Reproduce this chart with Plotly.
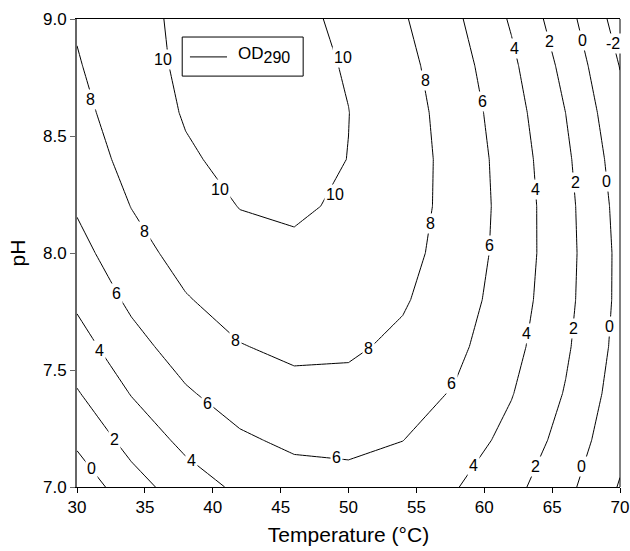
import plotly.graph_objects as go

# Response surface of OD290 over temperature and pH
temperature = [30, 34, 38, 42, 46, 50, 54, 58, 62, 66, 70]
ph = [7.0, 7.2, 7.4, 7.6, 7.8, 8.0, 8.2, 8.4, 8.6, 8.8, 9.0]

# OD290 values, one row per pH level (columns follow temperature)
od_ph70 = [-1.28, 1.16, 3.05, 4.37, 5.13, 5.34, 4.98, 4.06, 2.58, 0.55, -2.15]
od_ph72 = [0.37, 2.71, 4.49, 5.71, 6.38, 6.48, 6.02, 5.00, 3.42, 1.29, -1.41]
od_ph74 = [1.85, 4.09, 5.78, 6.90, 7.46, 7.46, 6.90, 5.78, 4.10, 1.87, -0.93]
od_ph76 = [3.18, 5.32, 6.90, 7.92, 8.38, 8.28, 7.62, 6.40, 4.63, 2.29, -0.61]
od_ph78 = [4.35, 6.39, 7.87, 8.79, 9.15, 8.95, 8.19, 6.87, 4.99, 2.55, -0.46]
od_ph80 = [5.35, 7.29, 8.67, 9.49, 9.75, 9.45, 8.59, 7.17, 5.19, 2.65, -0.46]
od_ph82 = [6.20, 8.04, 9.32, 10.04, 10.20, 9.79, 8.83, 7.31, 5.23, 2.59, -0.62]
od_ph84 = [6.89, 8.63, 9.80, 10.42, 10.48, 9.98, 8.91, 7.29, 5.11, 2.37, -0.94]
od_ph86 = [7.42, 9.05, 10.13, 10.65, 10.60, 10.02, 8.84, 7.11, 4.83, 1.99, -1.42]
od_ph88 = [7.85, 9.32, 10.30, 10.71, 10.57, 9.87, 8.60, 6.78, 4.39, 1.45, -2.06]
od_ph90 = [8.20, 9.55, 10.30, 10.62, 10.37, 9.68, 8.20, 6.28, 3.79, 0.75, -2.86]

od290 = [od_ph70, od_ph72, od_ph74, od_ph76, od_ph78, od_ph80,
         od_ph82, od_ph84, od_ph86, od_ph88, od_ph90]

# Contour levels drawn
levels = [-2, 0, 2, 4, 6, 8, 10]

# Inline contour labels: level and where it sits (temperature, pH)
label_level = [10, 10, 10, 10,
               8, 8, 8, 8, 8, 8,
               6, 6, 6, 6, 6, 6,
               4, 4, 4, 4, 4, 4,
               2, 2, 2, 2, 2,
               0, 0, 0, 0, 0,
               -2]
label_temp = [36.36, 40.53, 49.6, 49.0,
              30.96, 34.94, 55.64, 56.05, 41.71, 51.46,
              59.86, 60.37, 32.92, 39.63, 57.6, 49.13,
              62.26, 63.79, 63.13, 59.19, 31.69, 38.45,
              64.77, 66.69, 66.56, 63.74, 32.75,
              67.25, 69.02, 69.21, 67.18, 31.08,
              69.45]
label_ph = [8.825, 8.272, 8.836, 8.248,
            8.658, 8.094, 8.739, 8.127, 7.628, 7.593,
            8.647, 8.034, 7.828, 7.358, 7.443, 7.127,
            8.875, 8.272, 7.657, 7.094, 7.585, 7.115,
            8.903, 8.300, 7.678, 7.087, 7.201,
            8.910, 8.305, 7.688, 7.087, 7.080,
            8.896]

x_ticks = [30, 35, 40, 45, 50, 55, 60, 65, 70]
y_ticks = [7.0, 7.5, 8.0, 8.5, 9.0]

series_name = "OD<sub><span style='font-size:16px'>290</span></sub>"

FONT = "Liberation Sans, Arial, Helvetica, sans-serif"

fig = go.Figure()

fig.add_trace(go.Contour(
    x=temperature,
    y=ph,
    z=od290,
    contours=dict(
        start=min(levels), end=max(levels), size=2,
        coloring="none",
        showlabels=False,
    ),
    line=dict(color="black", width=1, smoothing=0),
    showscale=False,
    showlegend=False,
    hoverinfo="skip",
))

annotations = [
    dict(
        x=t, y=p, xref="x", yref="y",
        text=str(lv),
        showarrow=False,
        font=dict(family=FONT, size=16, color="black"),
        bgcolor="white",
        borderpad=1,
        xanchor="center", yanchor="middle",
    )
    for lv, t, p in zip(label_level, label_temp, label_ph)
]

# Legend box (in axis units): frame, line sample and series name
annotations.append(dict(
    x=41.72, y=8.845, xref="x", yref="y",
    text=series_name, showarrow=False,
    font=dict(family=FONT, size=17, color="black"),
    xanchor="left", yanchor="middle",
))

shapes = [
    dict(type="line", xref="paper", yref="paper",
         x0=1, x1=1, y0=0, y1=1,
         line=dict(color="black", width=1)),
    dict(type="rect", xref="x", yref="y",
         x0=37.75, x1=46.66, y0=8.756, y1=8.923,
         fillcolor="white", line=dict(color="black", width=1)),
    dict(type="line", xref="x", yref="y",
         x0=38.32, x1=41.05, y0=8.838, y1=8.838,
         line=dict(color="black", width=1)),
]

fig.update_layout(
    width=630,
    height=551,
    margin=dict(l=77, r=10, t=19, b=64, autoexpand=False),
    paper_bgcolor="white",
    plot_bgcolor="white",
    font=dict(family=FONT, size=16, color="black"),
    showlegend=False,
    xaxis=dict(
        range=[30, 70],
        tickvals=x_ticks,
        ticks="outside", ticklen=5, tickwidth=1, tickcolor="black",
        showline=True, linecolor="black", linewidth=1, mirror=True,
        showgrid=False, zeroline=False,
        tickfont=dict(family=FONT, size=17),
        title=dict(text="Temperature (°C)", font=dict(family=FONT, size=21), standoff=10),
    ),
    yaxis=dict(
        range=[7.0, 9.0],
        tickvals=y_ticks,
        tickformat=".1f",
        ticks="outside", ticklen=5, tickwidth=1, tickcolor="#666666",
        showline=True, linecolor="#666666", linewidth=2,
        showgrid=False, zeroline=False,
        tickfont=dict(family=FONT, size=17),
        title=dict(text="pH", font=dict(family=FONT, size=21), standoff=12),
    ),
    shapes=shapes,
    annotations=annotations,
)

fig.write_html("out.html")
